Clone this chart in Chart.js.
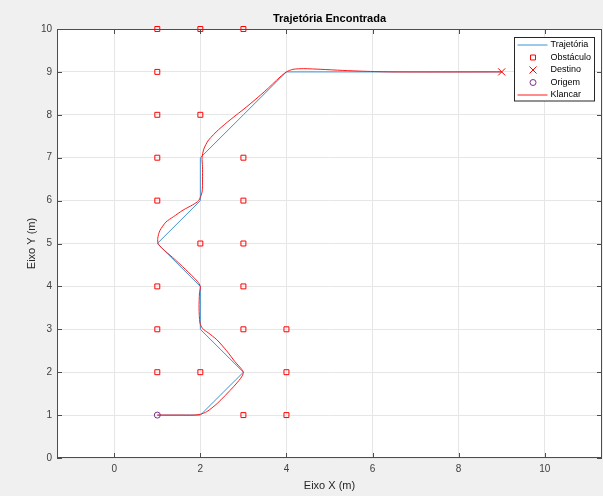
<!DOCTYPE html>
<html lang="pt-BR">
<head>
<meta charset="utf-8">
<title>Trajetória Encontrada</title>
<script src="https://cdn.jsdelivr.net/npm/chart.js"></script>
<style>
    html, body { margin: 0; padding: 0; background: #f0f0f0; }
    #caixa { width: 603px; height: 496px; }
</style>
</head>
<body>
<div id="caixa"><canvas id="trajetoriaChart" width="603" height="496"></canvas></div>
<script>
// Dados
const xTicks = [0, 2, 4, 6, 8, 10];
const yTicks = [0, 1, 2, 3, 4, 5, 6, 7, 8, 9, 10];

// Caminho encontrado (grade)
const trajetoriaX = [1, 2, 3, 2, 2, 1, 2, 2, 3, 4, 9];
const trajetoriaY = [1, 1, 2, 3, 4, 5, 6, 7, 8, 9, 9];

// Obstáculos
const obstaculoX = [1, 2, 3, 1, 1, 2, 1, 3, 1, 3, 2, 3, 1, 3, 1, 3, 4, 1, 2, 4, 3, 4];
const obstaculoY = [10, 10, 10, 9, 8, 8, 7, 7, 6, 6, 5, 5, 4, 4, 3, 3, 3, 2, 2, 2, 1, 1];

const destinoX = [9];
const destinoY = [9];
const origemX = [1];
const origemY = [1];

// Trajetória do controlador Klancar (estimada do gráfico)
const klancarX = [1, 1.5, 1.85, 2.0, 2.15, 2.39, 2.77, 2.93, 2.98, 3.0, 2.95, 2.8, 2.61, 2.38, 2.18, 2.05, 1.99, 1.97, 1.98, 2.0,
    1.93, 1.65, 1.35, 1.12, 1.02, 1.01, 1.06, 1.2, 1.37, 1.6, 1.82, 1.96, 2.04, 2.05, 2.05, 2.04,
    2.08, 2.19, 2.42, 2.69, 3.08, 3.5, 3.85, 4.0, 4.15, 4.4, 4.8, 5.3, 5.8, 6.5, 9.0];
const klancarY = [1, 1.0, 1.0, 1.02, 1.08, 1.27, 1.66, 1.85, 1.93, 2.0, 2.08, 2.25, 2.5, 2.76, 2.92, 3.02, 3.15, 3.5, 3.85, 4.0,
    4.12, 4.4, 4.68, 4.88, 5.0, 5.12, 5.3, 5.5, 5.62, 5.78, 5.9, 6.0, 6.2, 6.5, 6.8, 7.0,
    7.2, 7.41, 7.65, 7.88, 8.19, 8.55, 8.88, 9.0, 9.06, 9.075, 9.06, 9.035, 9.015, 9.0, 9.0];

const fonte = '"Liberation Sans", Arial, sans-serif';

function pontos(xs, ys) {
    return xs.map((x, i) => ({ x: x, y: ys[i] }));
}

// Fundo cinza, área do gráfico branca, moldura e marcas dos eixos
const moldura = {
    id: 'moldura',
    beforeDraw(chart) {
        const { ctx, chartArea: a } = chart;
        ctx.save();
        ctx.fillStyle = '#f0f0f0';
        ctx.fillRect(0, 0, chart.width, chart.height);
        ctx.fillStyle = '#ffffff';
        ctx.fillRect(a.left, a.top, a.right - a.left, a.bottom - a.top);
        ctx.restore();
    },
    beforeDatasetsDraw(chart) {
        const { ctx, chartArea: a, scales } = chart;
        ctx.save();
        ctx.strokeStyle = '#4d4d4d';
        ctx.lineWidth = 1;
        ctx.strokeRect(a.left + 0.5, a.top + 0.5, a.right - a.left - 1, a.bottom - a.top - 1);
        ctx.beginPath();
        xTicks.forEach(v => {
            const px = Math.round(scales.x.getPixelForValue(v)) + 0.5;
            ctx.moveTo(px, a.top); ctx.lineTo(px, a.top + 5);
            ctx.moveTo(px, a.bottom); ctx.lineTo(px, a.bottom - 5);
        });
        yTicks.forEach(v => {
            const py = Math.round(scales.y.getPixelForValue(v)) + 0.5;
            ctx.moveTo(a.left, py); ctx.lineTo(a.left + 5, py);
            ctx.moveTo(a.right, py); ctx.lineTo(a.right - 5, py);
        });
        ctx.stroke();
        ctx.restore();
    }
};

// Legenda no canto superior direito, no estilo do MATLAB
const legendaCaixa = {
    id: 'legendaCaixa',
    afterDraw(chart) {
        const { ctx, chartArea: a } = chart;
        const direita = a.right - 7.5;
        const esquerda = direita - 80;
        const topo = a.top + 8.5;
        const passo = 12.5;
        const conjuntos = chart.data.datasets;
        ctx.save();
        ctx.fillStyle = '#ffffff';
        ctx.fillRect(esquerda, topo, direita - esquerda, passo * conjuntos.length + 1);
        ctx.strokeStyle = '#262626';
        ctx.lineWidth = 1;
        ctx.strokeRect(esquerda, topo, direita - esquerda, passo * conjuntos.length + 1);
        conjuntos.forEach((ds, i) => {
            const y = topo + 7.5 + i * passo;
            const xm = esquerda + 18.5;
            ctx.strokeStyle = ds.borderColor;
            ctx.lineWidth = 1;
            ctx.beginPath();
            if (ds.showLine) {
                ctx.moveTo(esquerda + 3, y); ctx.lineTo(esquerda + 33, y);
            } else if (ds.pointStyle === 'rect') {
                const s = ds.pointRadius * Math.SQRT1_2;
                ctx.rect(xm - s, y - s, 2 * s, 2 * s);
            } else if (ds.pointStyle === 'crossRot') {
                const s = ds.pointRadius * Math.SQRT1_2;
                ctx.moveTo(xm - s, y - s); ctx.lineTo(xm + s, y + s);
                ctx.moveTo(xm - s, y + s); ctx.lineTo(xm + s, y - s);
            } else {
                ctx.arc(xm, y, ds.pointRadius, 0, Math.PI * 2);
            }
            ctx.stroke();
            ctx.fillStyle = '#000000';
            ctx.font = '9px ' + fonte;
            ctx.textAlign = 'left';
            ctx.textBaseline = 'middle';
            ctx.fillText(ds.label, esquerda + 36, y);
        });
        ctx.restore();
    }
};

const data = {
    datasets: [
        {
            label: 'Trajetória',
            data: pontos(trajetoriaX, trajetoriaY),
            showLine: true,
            borderColor: '#3d93d3',
            borderWidth: 1,
            pointRadius: 0,
            tension: 0,
            order: 4
        },
        {
            label: 'Obstáculo',
            data: pontos(obstaculoX, obstaculoY),
            showLine: false,
            pointStyle: 'rect',
            pointRadius: 3.5,
            borderColor: '#ff0000',
            backgroundColor: 'rgba(0,0,0,0)',
            pointBorderWidth: 1,
            clip: false,
            order: 3
        },
        {
            label: 'Destino',
            data: pontos(destinoX, destinoY),
            showLine: false,
            pointStyle: 'crossRot',
            pointRadius: 5,
            borderColor: '#ff0000',
            backgroundColor: 'rgba(0,0,0,0)',
            pointBorderWidth: 1,
            order: 2
        },
        {
            label: 'Origem',
            data: pontos(origemX, origemY),
            showLine: false,
            pointStyle: 'circle',
            pointRadius: 3,
            borderColor: '#7e2f8e',
            backgroundColor: 'rgba(0,0,0,0)',
            pointBorderWidth: 1,
            order: 1
        },
        {
            label: 'Klancar',
            data: pontos(klancarX, klancarY),
            showLine: true,
            borderColor: '#ff1a1a',
            borderWidth: 1,
            pointRadius: 0,
            tension: 0.25,
            order: 0
        }
    ]
};

const config = {
    type: 'scatter',
    data: data,
    plugins: [moldura, legendaCaixa],
    options: {
        responsive: false,
        animation: false,
        layout: { autoPadding: false, padding: { left: 0, right: 1, top: 0, bottom: 0 } },
        plugins: {
            legend: { display: false },
            tooltip: { enabled: false },
            title: {
                display: true,
                text: 'Trajetória Encontrada',
                fullSize: false,
                color: '#000000',
                font: { family: fonte, size: 11, weight: 'bold', lineHeight: 1.2 },
                padding: { top: 12.4, bottom: 3.4 }
            }
        },
        scales: {
            x: {
                type: 'linear',
                min: -1.33,
                max: 11.33,
                afterBuildTicks: scale => { scale.ticks = xTicks.map(v => ({ value: v })); },
                afterFit: scale => {
                    scale.height = 38;
                    scale.paddingLeft = 0;
                    scale.paddingRight = 0;
                },
                grid: { color: '#e6e6e6', drawTicks: false },
                border: { display: false },
                ticks: { padding: 5, color: '#404040', font: { family: fonte, size: 10 } },
                title: {
                    display: true,
                    text: 'Eixo X (m)',
                    color: '#262626',
                    font: { family: fonte, size: 11, lineHeight: 1.2 },
                    padding: { top: 0, bottom: 3.4 }
                }
            },
            y: {
                type: 'linear',
                min: 0,
                max: 10,
                afterBuildTicks: scale => { scale.ticks = yTicks.map(v => ({ value: v })); },
                afterFit: scale => {
                    scale.width = 57;
                    scale.paddingTop = 0;
                    scale.paddingBottom = 0;
                },
                grid: { color: '#e6e6e6', drawTicks: false },
                border: { display: false },
                ticks: { padding: 5, color: '#404040', font: { family: fonte, size: 10 } },
                title: {
                    display: true,
                    text: 'Eixo Y (m)',
                    color: '#262626',
                    font: { family: fonte, size: 11, lineHeight: 1.2 },
                    padding: { top: 25.4, bottom: 0 }
                }
            }
        }
    }
};

// Renderizar o gráfico
const ctx = document.getElementById('trajetoriaChart').getContext('2d');
new Chart(ctx, config);
</script>
</body>
</html>
